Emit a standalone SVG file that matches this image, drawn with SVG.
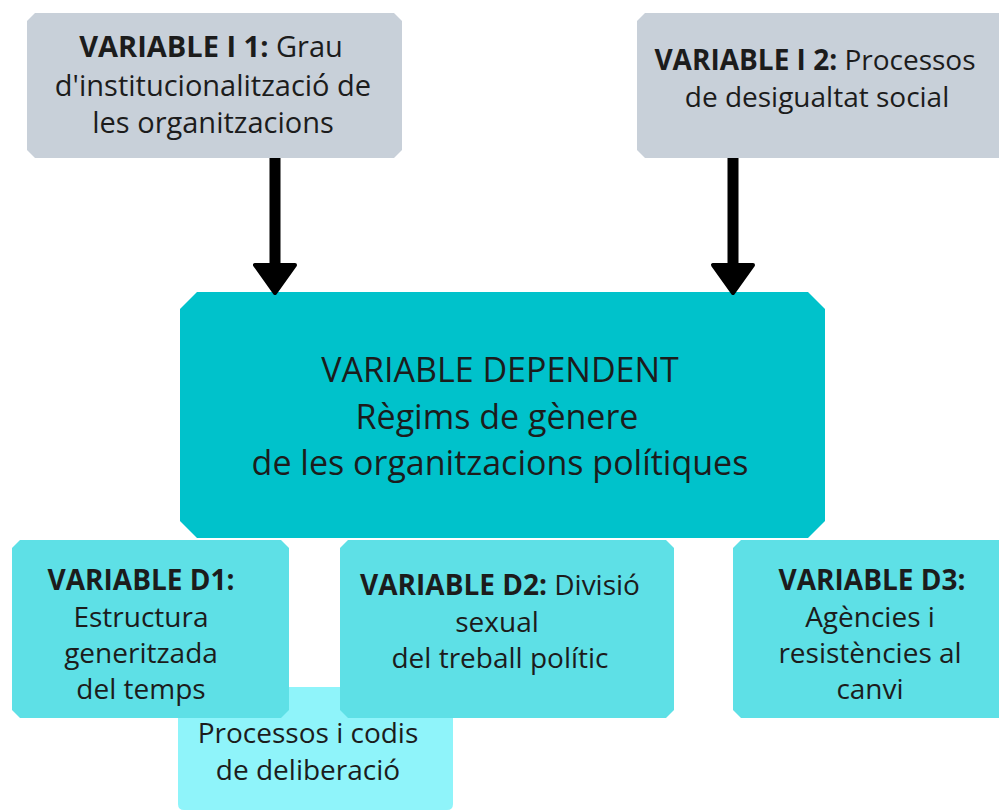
<svg xmlns="http://www.w3.org/2000/svg" width="999" height="811" viewBox="0 0 999 811">
  <defs>
    <style>
      .t { font-family: "Open Sans", "Liberation Sans", sans-serif; font-size: 28px; fill: #1c1c1c; text-anchor: middle; }
      .b { font-weight: 700; }
      .big { font-size: 29px; }
      .main { font-size: 34px; }
      .gray { fill: #c8d0d9; }
      .teal { fill: #00c2cb; }
      .light { fill: #5ee0e6; }
      .pale { fill: #8ff4fa; }
      .shaft { stroke: #000; stroke-width: 11; fill: none; }
    </style>
    <marker id="head" markerUnits="userSpaceOnUse" viewBox="-3 -3 34 46" markerWidth="34" markerHeight="46" refX="0" refY="20" orient="auto">
      <path d="M0,0 L28,20 L0,40 Z" fill="#000" stroke="#000" stroke-width="4" stroke-linejoin="round"/>
    </marker>
  </defs>
  <rect width="999" height="811" fill="#ffffff"/>

  <g id="node-deliberacio">
    <path class="pale" d="M178,687 H453 V804 Q453,810 447,810 H184 Q178,810 178,804 Z"/>
    <text class="t" x="308" y="743">Processos i codis</text>
    <text class="t" x="308" y="780">de deliberació</text>
  </g>

  <g id="node-i1">
    <path class="gray" d="M35,13 H394 L402,21 V150 L394,158 H35 L27,150 V21 Z"/>
    <text class="t big" x="211" y="57"><tspan class="b">VARIABLE I 1:</tspan> Grau</text>
    <text class="t big" x="213" y="96">d'institucionalització de</text>
    <text class="t big" x="213" y="133">les organitzacions</text>
  </g>

  <g id="node-i2">
    <path class="gray" d="M645,13 H999 V158 H645 L637,150 V21 Z"/>
    <text class="t" x="815" y="70"><tspan class="b">VARIABLE I 2:</tspan> Processos</text>
    <text class="t" x="817" y="107">de desigualtat social</text>
  </g>

  <g id="node-main">
    <path class="teal" d="M197,292 H808 L825,309 V521 L808,538 H197 L180,521 V309 Z"/>
    <text class="t main" x="500" y="382">VARIABLE DEPENDENT</text>
    <text class="t main" x="497" y="429">Règims de gènere</text>
    <text class="t main" x="500" y="475">de les organitzacions polítiques</text>
  </g>

  <g id="node-d1">
    <path class="light" d="M20,540 H281 L289,548 V710 L281,718 H20 L12,710 V548 Z"/>
    <text class="t" x="141" y="590"><tspan class="b">VARIABLE D1:</tspan></text>
    <text class="t" x="141" y="627">Estructura</text>
    <text class="t" x="141" y="663">generitzada</text>
    <text class="t" x="141" y="699">del temps</text>
  </g>

  <g id="node-d2">
    <path class="light" d="M348,540 H666 L674,548 V710 L666,718 H348 L340,710 V548 Z"/>
    <text class="t" x="500" y="595"><tspan class="b">VARIABLE D2:</tspan> Divisió</text>
    <text class="t" x="497" y="632">sexual</text>
    <text class="t" x="500" y="668">del treball polític</text>
  </g>

  <g id="node-d3">
    <path class="light" d="M741,540 H999 V718 H741 L733,710 V548 Z"/>
    <text class="t" x="872" y="590"><tspan class="b">VARIABLE D3:</tspan></text>
    <text class="t" x="870" y="627">Agències i</text>
    <text class="t" x="870" y="663">resistències al</text>
    <text class="t" x="870" y="699">canvi</text>
  </g>

  <g id="connectors">
    <line class="shaft" x1="275" y1="158" x2="275" y2="265" marker-end="url(#head)"/>
    <line class="shaft" x1="733" y1="158" x2="733" y2="265" marker-end="url(#head)"/>
  </g>
</svg>
